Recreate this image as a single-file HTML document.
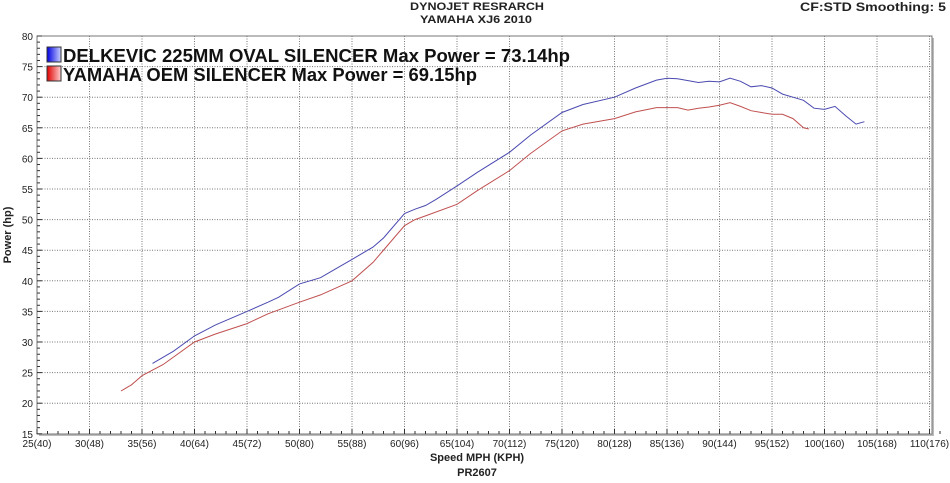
<!DOCTYPE html>
<html><head><meta charset="utf-8"><style>
body{margin:0;background:#fff;width:950px;height:478px;overflow:hidden;font-family:"Liberation Sans",Arial,sans-serif}
</style></head><body>
<svg id="s" width="950" height="478" xmlns="http://www.w3.org/2000/svg" font-family="Liberation Sans, Arial, sans-serif">
<text x="410" y="10" font-size="11" font-weight="bold" fill="#222" textLength="134" lengthAdjust="spacingAndGlyphs">DYNOJET RESRARCH</text>
<text x="420" y="23" font-size="11" font-weight="bold" fill="#222" textLength="112" lengthAdjust="spacingAndGlyphs">YAMAHA XJ6 2010</text>
<text x="800" y="11" font-size="12" font-weight="bold" fill="#222" textLength="146" lengthAdjust="spacingAndGlyphs">CF:STD Smoothing: 5</text>
<rect x="39" y="38" width="895" height="398" fill="#bbb"/>
<rect x="37" y="36" width="895" height="398" fill="#fff" stroke="#777" stroke-width="1"/>
<g id="grid" stroke="#777" stroke-width="1" stroke-dasharray="1,1.5"></g>
<g id="ticks" stroke="#333" stroke-width="1"></g>
<g id="lab" font-size="10" fill="#222"></g>
<path id="red" fill="none" stroke="#c05050" stroke-width="1"/>
<path id="blue" fill="none" stroke="#4a4ab0" stroke-width="1"/>
<defs>
<linearGradient id="gb" x1="0" x2="1"><stop offset="0" stop-color="#0000e0"/><stop offset="1" stop-color="#c8d0ff"/></linearGradient>
<linearGradient id="gr" x1="0" x2="1"><stop offset="0" stop-color="#e00000"/><stop offset="1" stop-color="#ffd0d0"/></linearGradient>
</defs>
<rect x="47" y="47" width="14" height="15" fill="url(#gb)" stroke="#333"/>
<rect x="47" y="66" width="14" height="15" fill="url(#gr)" stroke="#333"/>
<text x="63" y="62" font-size="18" font-weight="bold" fill="#111" textLength="507" lengthAdjust="spacingAndGlyphs">DELKEVIC 225MM OVAL SILENCER Max Power = 73.14hp</text>
<text x="63" y="81" font-size="18" font-weight="bold" fill="#111" textLength="414" lengthAdjust="spacingAndGlyphs">YAMAHA OEM SILENCER Max Power = 69.15hp</text>
<text x="477" y="461" font-size="11" font-weight="bold" text-anchor="middle" fill="#222">Speed MPH (KPH)</text>
<text x="477" y="476" font-size="11" font-weight="bold" text-anchor="middle" fill="#222">PR2607</text>
<text transform="translate(11,235) rotate(-90)" font-size="11" font-weight="bold" text-anchor="middle" fill="#222">Power (hp)</text>
</svg>
<script>
var X=function(m){return 37+(m-25)*10.5},Y=function(h){return 36+(80-h)*6.12};
var g=document.getElementById('grid'),t=document.getElementById('ticks'),l=document.getElementById('lab'),ns="http://www.w3.org/2000/svg";
function el(p,n,a,txt){var e=document.createElementNS(ns,n);for(var k in a)e.setAttribute(k,a[k]);if(txt)e.textContent=txt;p.appendChild(e);}
for(var m=30;m<=110;m+=5)el(g,'line',{x1:X(m),x2:X(m),y1:36,y2:434});
for(var h=20;h<=75;h+=5)el(g,'line',{x1:37,x2:932,y1:Y(h),y2:Y(h)});
for(var m=25;m<=110;m+=5){el(l,'text',{x:X(m),y:447,'text-anchor':'middle'},m+'('+Math.round(m*1.6)+')');}
for(var m=25;m<=112;m+=1)el(t,'line',{x1:X(m),x2:X(m),y1:434,y2:m%5?431:429});
for(var h=15;h<=80;h+=5)el(l,'text',{x:33,y:Y(h)+4,'text-anchor':'end'},h);
for(var h=15;h<=80;h+=1)el(t,'line',{x1:37,x2:h%5?40:42,y1:Y(h),y2:Y(h)});
var B=[[36,26.5],[38,28.5],[40,31],[42,32.8],[45,35],[47,36.5],[48,37.3],[50,39.5],[52,40.5],[53,41.5],[55,43.5],[57,45.5],[58,47],[60,51],[61,51.7],[62,52.3],[63,53.3],[65,55.5],[67,57.8],[70,61],[72,63.8],[75,67.5],[77,68.8],[80,70],[82,71.5],[84,72.8],[85,73.1],[86,73],[88,72.4],[89,72.6],[90,72.5],[91,73.1],[92,72.6],[93,71.7],[94,71.9],[95,71.5],[96,70.5],[97,70],[98,69.5],[99,68.2],[100,68],[101,68.5],[102,67],[103,65.6],[103.8,66]];
var R=[[33,22],[34,23],[35,24.5],[37,26.3],[40,30],[42,31.3],[45,33],[47,34.6],[50,36.5],[52,37.7],[55,40],[57,43],[60,49],[61,50],[62,50.6],[65,52.5],[67,54.8],[70,58],[72,60.8],[75,64.5],[77,65.6],[80,66.5],[82,67.6],[84,68.3],[86,68.3],[87,67.9],[88,68.2],[89,68.4],[90,68.7],[91,69.1],[92,68.5],[93,67.8],[94,67.5],[95,67.2],[96,67.2],[97,66.5],[98,65],[98.5,64.8]];
function P(d){return d.map(function(p,i){return (i?'L':'M')+X(p[0]).toFixed(1)+','+Y(p[1]).toFixed(1)}).join(' ')}
document.getElementById('blue').setAttribute('d',P(B));
document.getElementById('red').setAttribute('d',P(R));
</script>
</body></html>
